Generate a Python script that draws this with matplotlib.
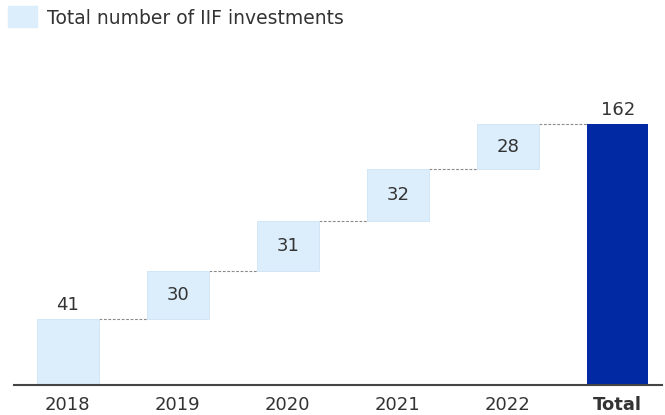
import numpy as np
import matplotlib
matplotlib.use("Agg")
import matplotlib.pyplot as plt
from matplotlib.patches import Rectangle

# Data
years = ['2018', '2019', '2020', '2021', '2022', 'Total']
steps = [41, 30, 31, 32, 28]
total = sum(steps)

light = '#DCEEFC'
dark = '#0029A3'
txt = '#333333'

fig = plt.figure(figsize=(6.65, 4.15), dpi=100)
ax = fig.add_axes([0.021, 0.0723, 0.974, 0.776])

x = np.arange(len(years))
w = 0.56
bottoms = np.concatenate([[0], np.cumsum(steps)[:-1]])
tops = np.cumsum(steps)

ax.bar(x[:-1], steps, bottom=bottoms, width=w, color=light,
       edgecolor='#CFE3F5', linewidth=0.6, zorder=2)
ax.bar(x[-1], total, width=w, color=dark, zorder=2)

# connectors
for i in range(len(steps)):
    ax.plot([x[i] + w / 2, x[i + 1] - w / 2], [tops[i], tops[i]],
            ls=(0, (2.5, 1.5)), color='#8a8a8a', lw=0.8, zorder=1)

# labels
fs = 13
ax.text(x[0], tops[0] + 3, str(steps[0]), ha='center', va='bottom',
        fontsize=fs, color=txt)
for i in range(1, len(steps)):
    ax.text(x[i], bottoms[i] + steps[i] / 2, str(steps[i]), ha='center',
            va='center', fontsize=fs, color=txt)
ax.text(x[-1], total + 3, str(total), ha='center', va='bottom',
        fontsize=fs, color=txt)

ax.set_xlim(-0.49, 5.4)
ax.set_ylim(0, 200)
ax.set_xticks(x)
ax.set_xticklabels(years, fontsize=fs, color=txt)
ax.get_xticklabels()[-1].set_fontweight('bold')
ax.tick_params(axis='x', length=0, pad=8)
ax.set_yticks([])
for s in ['top', 'right', 'left']:
    ax.spines[s].set_visible(False)
ax.spines['bottom'].set_color('#444444')
ax.spines['bottom'].set_linewidth(1.5)

# legend
fig.patches.append(Rectangle((8 / 665, 1 - 27 / 415), 29 / 665, 21 / 415,
                             transform=fig.transFigure, color=light))
fig.text(47 / 665, 1 - 18 / 415, 'Total number of IIF investments',
         fontsize=13.5, color=txt, va='center', ha='left')

fig.savefig('out.png', dpi=100)
